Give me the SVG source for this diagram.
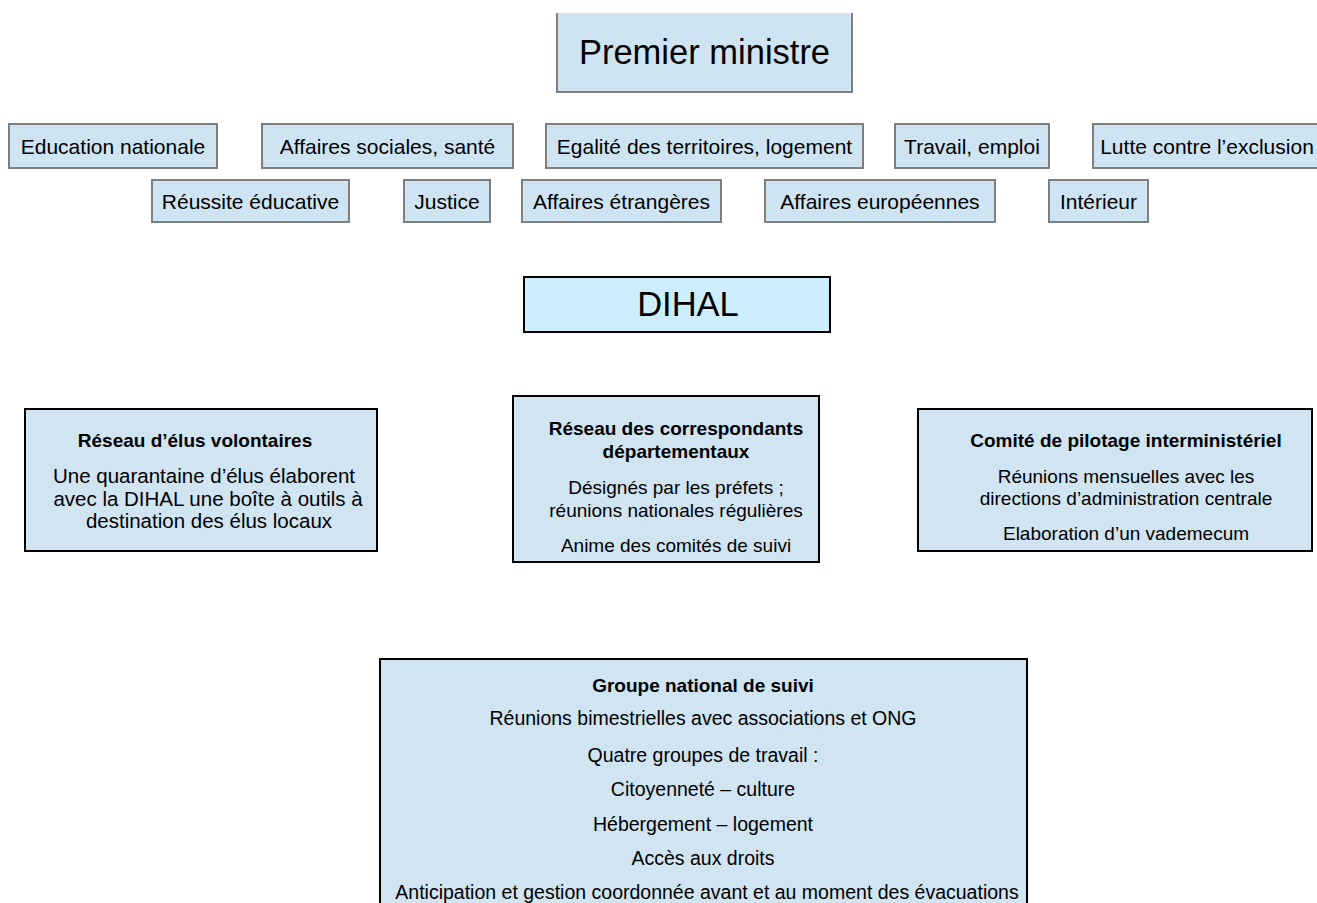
<svg xmlns="http://www.w3.org/2000/svg" width="1317" height="903" viewBox="0 0 1317 903">
<style>
  text { font-family: "Liberation Sans", Arial, sans-serif; fill: #000; text-anchor: middle; }
  .min { fill: #cfe4f3; stroke: #7f7f7f; stroke-width: 2; }
  .minfill { fill: #cfe4f3; stroke: none; }
  .minedge { fill: none; stroke: #7f7f7f; stroke-width: 2; }
  .mt { font-size: 21px; }
  .dihal { fill: #cdeeff; stroke: #000; stroke-width: 2; }
  .panel { fill: #d0e4f2; stroke: #000; stroke-width: 2; }
  .big { font-size: 34.5px; }
  .ttl { font-size: 19px; font-weight: bold; }
  .bd { font-size: 19px; }
  .bd1 { font-size: 20.5px; }
  .bdb { font-size: 19.5px; }
</style>
<rect width="1317" height="903" fill="#ffffff"/>
<g id="connectors"></g>

<g id="premier-ministre">
  <rect class="minfill" x="557" y="13" width="295" height="79"/>
  <path class="minedge" d="M557,13 V92 H852 V13"/>
  <text class="big" x="704.5" y="64">Premier ministre</text>
</g>

<g id="education-nationale">
  <rect class="min" x="9" y="124" width="208" height="44"/>
  <text class="mt" x="113" y="154">Education nationale</text>
</g>
<g id="affaires-sociales">
  <rect class="min" x="262" y="124" width="251" height="44"/>
  <text class="mt" x="387.5" y="154">Affaires sociales, santé</text>
</g>
<g id="egalite-territoires">
  <rect class="min" x="546" y="124" width="317" height="44"/>
  <text class="mt" x="704.5" y="154">Egalité des territoires, logement</text>
</g>
<g id="travail-emploi">
  <rect class="min" x="895" y="124" width="154" height="44"/>
  <text class="mt" x="972" y="154">Travail, emploi</text>
</g>
<g id="lutte-exclusion">
  <rect class="minfill" x="1093" y="124" width="224" height="44"/>
  <path class="minedge" d="M1318,124 H1093 V168 H1318"/>
  <text class="mt" x="1207" y="154">Lutte contre l’exclusion</text>
</g>

<g id="reussite-educative">
  <rect class="min" x="152" y="180" width="197" height="42"/>
  <text class="mt" x="250.5" y="209">Réussite éducative</text>
</g>
<g id="justice">
  <rect class="min" x="404" y="180" width="86" height="42"/>
  <text class="mt" x="447" y="209">Justice</text>
</g>
<g id="affaires-etrangeres">
  <rect class="min" x="522" y="180" width="199" height="42"/>
  <text class="mt" x="621.5" y="209">Affaires étrangères</text>
</g>
<g id="affaires-europeennes">
  <rect class="min" x="765" y="180" width="230" height="42"/>
  <text class="mt" x="880" y="209">Affaires européennes</text>
</g>
<g id="interieur">
  <rect class="min" x="1049" y="180" width="99" height="42"/>
  <text class="mt" x="1098.5" y="209">Intérieur</text>
</g>

<g id="dihal">
  <rect class="dihal" x="524" y="277" width="306" height="55"/>
  <text class="big" x="688" y="316">DIHAL</text>
</g>

<g id="reseau-elus">
  <rect class="panel" x="25" y="409" width="352" height="142"/>
  <text class="ttl" x="195" y="447">Réseau d’élus volontaires</text>
  <text class="bd1" x="204" y="483">Une quarantaine d’élus élaborent</text>
  <text class="bd1" x="208" y="506">avec la DIHAL une boîte à outils à</text>
  <text class="bd1" x="209" y="528">destination des élus locaux</text>
</g>

<g id="reseau-correspondants">
  <rect class="panel" x="513" y="396" width="306" height="166"/>
  <text class="ttl" x="676" y="435">Réseau des correspondants</text>
  <text class="ttl" x="676" y="458">départementaux</text>
  <text class="bd" x="676" y="494">Désignés par les préfets ;</text>
  <text class="bd" x="676" y="517">réunions nationales régulières</text>
  <text class="bd" x="676" y="552">Anime des comités de suivi</text>
</g>

<g id="comite-pilotage">
  <rect class="panel" x="918" y="409" width="394" height="142"/>
  <text class="ttl" x="1126" y="447">Comité de pilotage interministériel</text>
  <text class="bd" x="1126" y="483">Réunions mensuelles avec les</text>
  <text class="bd" x="1126" y="505">directions d’administration centrale</text>
  <text class="bd" x="1126" y="540">Elaboration d’un vademecum</text>
</g>

<g id="groupe-national">
  <rect class="panel" x="380" y="659" width="647" height="260"/>
  <text class="ttl" x="703" y="692">Groupe national de suivi</text>
  <text class="bdb" x="703" y="725">Réunions bimestrielles avec associations et ONG</text>
  <text class="bdb" x="703" y="762">Quatre groupes de travail :</text>
  <text class="bdb" x="703" y="796">Citoyenneté – culture</text>
  <text class="bdb" x="703" y="831">Hébergement – logement</text>
  <text class="bdb" x="703" y="865">Accès aux droits</text>
  <text class="bdb" x="707" y="899">Anticipation et gestion coordonnée avant et au moment des évacuations</text>
</g>
</svg>
